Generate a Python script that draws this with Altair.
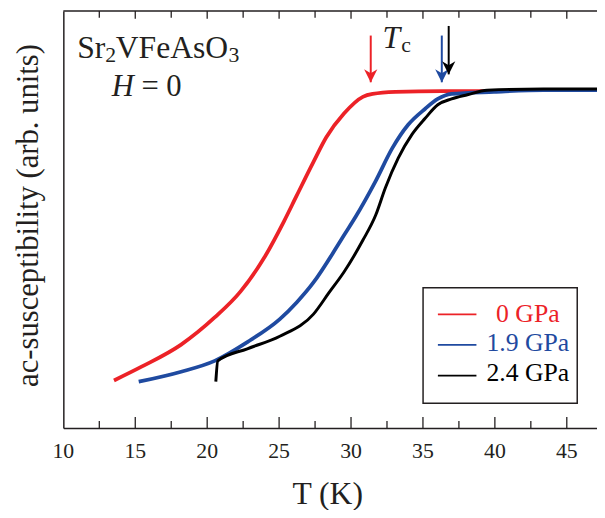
import altair as alt
import pandas as pd

FONT = "Liberation Serif"
INK = "#231f20"

series_names = ["0 GPa", "1.9 GPa", "2.4 GPa"]
series_colors = ["#ec2227", "#1f4aa0", "#000000"]

# 0 GPa (red)
t_0 = [13.52, 15.44, 18.19, 20.52, 22.31, 23.96, 25.33, 26.22, 27.39, 28.28,
       29.51, 30.82, 31.50, 33.08, 36.31, 38.37, 40.00]
v_0 = [0.114, 0.147, 0.200, 0.265, 0.327, 0.408, 0.495, 0.557, 0.638, 0.697,
       0.754, 0.794, 0.801, 0.806, 0.808, 0.808, 0.808]

# 1.9 GPa (blue)
t_19 = [15.24, 18.19, 20.52, 22.79, 25.05, 26.22, 27.39, 28.97, 29.51, 30.33,
        31.71, 32.87, 33.97, 35.14, 36.03, 36.99, 39.94, 43.37, 47.10]
v_19 = [0.111, 0.135, 0.161, 0.206, 0.261, 0.301, 0.349, 0.432, 0.462, 0.507,
        0.592, 0.671, 0.727, 0.765, 0.789, 0.801, 0.806, 0.810, 0.810]

# 2.4 GPa (black)
t_24 = [20.60, 20.74, 22.79, 25.05, 27.39, 28.48, 29.51, 30.82, 31.71, 32.39,
        33.28, 34.24, 35.14, 36.03, 36.99, 38.09, 39.46, 43.37, 47.10]
v_24 = [0.111, 0.161, 0.190, 0.220, 0.273, 0.325, 0.374, 0.450, 0.510, 0.576,
        0.647, 0.704, 0.742, 0.775, 0.789, 0.799, 0.810, 0.813, 0.813]

# Tc arrows
tc_values = [31.37, 36.31, 36.79]
arrow_top = [0.941, 0.941, 0.964]
arrow_tip = [0.829, 0.829, 0.848]

major_ticks = [10, 15, 20, 25, 30, 35, 40, 45]
minor_ticks = [12.5, 17.5, 22.5, 27.5, 32.5, 37.5, 42.5]

x_title = "T (K)"
y_title = "ac-susceptibility (arb. units)"

X_DOMAIN = [10, 47.1]
W, H = 540, 422

xscale = alt.Scale(domain=X_DOMAIN, nice=False, zero=False)
yscale = alt.Scale(domain=[0, 1], nice=False, zero=False)

one = pd.DataFrame({"a": [0]})

# frame: top border
top_border = alt.Chart(one).mark_rule(color=INK, strokeWidth=1.5).encode(
    x=alt.value(0), x2=alt.value(W), y=alt.value(0)
)

def tick_layer(values, y1, y2):
    return alt.Chart(pd.DataFrame({"t": values})).mark_rule(
        color=INK, strokeWidth=1.3
    ).encode(
        x=alt.X("t:Q", scale=xscale, axis=None),
        y=alt.value(y1), y2=alt.value(y2),
    )

ticks = [
    tick_layer(major_ticks[1:], H, H - 11),
    tick_layer(minor_ticks, H, H - 7),
    tick_layer(major_ticks[1:], 0, 8),
    tick_layer(minor_ticks, 0, 7),
]

tick_labels = alt.Chart(pd.DataFrame({"t": major_ticks})).mark_text(
    font=FONT, fontSize=22, color=INK, align="center", baseline="alphabetic"
).encode(
    x=alt.X("t:Q", scale=xscale, axis=None),
    y=alt.value(H + 30),
    text=alt.Text("t:Q", format="d"),
)

def curve(ts, vs, color, sw, main=False):
    df = pd.DataFrame({"T": ts, "v": vs})
    if main:
        xenc = alt.X("T:Q", scale=xscale, axis=alt.Axis(
            ticks=False, labels=False, grid=False, domain=True,
            domainColor=INK, domainWidth=1.5, title=None))
        yenc = alt.Y("v:Q", scale=yscale, axis=alt.Axis(
            ticks=False, labels=False, grid=False, domain=True,
            domainColor=INK, domainWidth=1.5, title=None))
    else:
        xenc = alt.X("T:Q", scale=xscale, axis=None)
        yenc = alt.Y("v:Q", scale=yscale, axis=None)
    return alt.Chart(df).mark_line(
        color=color, strokeWidth=sw, interpolate="monotone"
    ).encode(x=xenc, y=yenc)

curves = [
    curve(t_0, v_0, series_colors[0], 3.8, main=True),
    curve(t_19, v_19, series_colors[1], 3.8),
    curve(t_24, v_24, series_colors[2], 3.0),
]

arrow_df = pd.DataFrame({
    "series": series_names, "tc": tc_values, "top": arrow_top, "tip": arrow_tip,
})
cscale = alt.Scale(domain=series_names, range=series_colors)
arrow_lines = alt.Chart(arrow_df).mark_rule(strokeWidth=2).encode(
    x=alt.X("tc:Q", scale=xscale, axis=None),
    y=alt.Y("top:Q", scale=yscale, axis=None),
    y2="tip:Q",
    color=alt.Color("series:N", scale=cscale, legend=None),
)
arrow_heads = alt.Chart(arrow_df).mark_point(
    shape="M0,1L-1,-1L0,-0.4L1,-1Z", filled=True, size=180, opacity=1,
    yOffset=-6.5,
).encode(
    x=alt.X("tc:Q", scale=xscale, axis=None),
    y=alt.Y("tip:Q", scale=yscale, axis=None),
    color=alt.Color("series:N", scale=cscale, legend=None),
)

def txt(s, x, y, size, italic=False, color=INK, align="left", angle=0):
    return alt.Chart(one).mark_text(
        text=s, font=FONT, fontSize=size, color=color, align=align,
        baseline="alphabetic", fontStyle="italic" if italic else "normal",
        angle=angle,
    ).encode(x=alt.value(x), y=alt.value(y))

# positions relative to the plot origin
annotations = [
    txt("Sr", 14, 48, 32),
    txt("2", 42.5, 52, 22),
    txt("VFeAsO", 53, 48, 32),
    txt("3", 167, 52, 22),
    txt("H", 49, 86, 31, italic=True),
    txt("= 0", 79, 86, 31),
    txt("T", 323, 37, 32, italic=True),
    txt("c", 342, 42, 22),
    txt(x_title, 267.5, 499, 32, align="center"),
    txt(y_title, -26, 207, 31, align="center", angle=270),
]

# legend (drawn manually to allow coloured labels)
legend_box = alt.Chart(one).mark_rect(
    fill="white", stroke=INK, strokeWidth=1.5
).encode(x=alt.value(364), x2=alt.value(520), y=alt.value(280), y2=alt.value(397))

leg_df = pd.DataFrame({
    "series": series_names,
    "line_y": [307 + 31 * i for i in range(3)],
    "text_y": [315 + 29.5 * i for i in range(3)],
})
legend_lines = alt.Chart(leg_df).mark_rule(strokeWidth=1.8).encode(
    x=alt.value(379), x2=alt.value(418),
    y=alt.Y("line_y:Q", scale=None, axis=None),
    color=alt.Color("series:N", scale=cscale, legend=None),
)
legend_text = alt.Chart(leg_df).mark_text(
    font=FONT, fontSize=26, align="center", baseline="alphabetic"
).encode(
    x=alt.value(470),
    y=alt.Y("text_y:Q", scale=None, axis=None),
    text="series:N",
    color=alt.Color("series:N", scale=cscale, legend=None),
)

chart = alt.layer(
    *curves, top_border, *ticks, tick_labels, arrow_lines, arrow_heads,
    *annotations, legend_box, legend_lines, legend_text,
).resolve_axis(x="independent", y="independent").properties(
    width=W, height=H,
    autosize=alt.AutoSizeParams(type="none"),
    padding={"left": 56, "top": 0, "right": 0, "bottom": 80},
    background="white",
).configure_view(strokeWidth=0)

chart.save("out.html", embed_options={"renderer": "svg", "actions": False})
